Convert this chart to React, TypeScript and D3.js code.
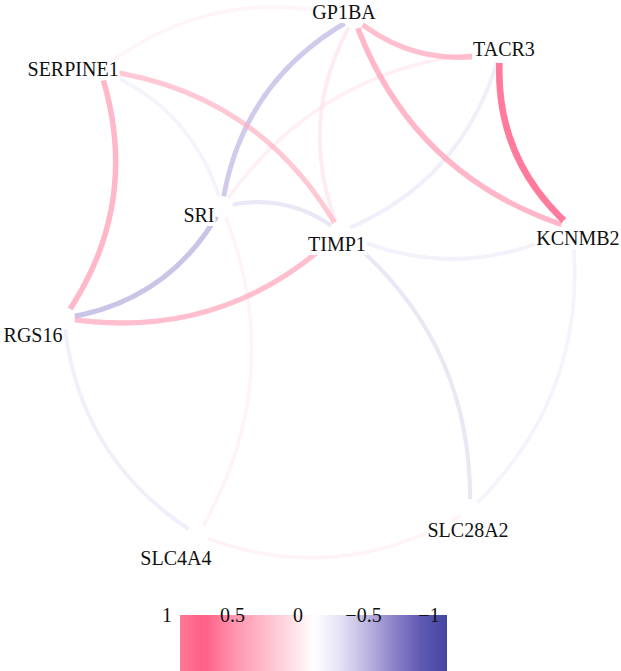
import React, { useEffect, useRef } from "react";
import * as d3 from "d3";

// ---- data ----
const nodeIds = ["GP1BA", "TACR3", "SERPINE1", "SRI", "TIMP1", "KCNMB2", "RGS16", "SLC28A2", "SLC4A4"];
const nodeX = [0.133, 0.703, -0.859, -0.383, 0.078, 0.984, -1.0, 0.586, -0.477];
const nodeY = [1.0, 0.868, 0.799, 0.269, 0.172, 0.188, -0.161, -0.903, -1.0];

const edgeFrom = ["GP1BA", "GP1BA", "TACR3", "RGS16", "TIMP1", "GP1BA", "RGS16", "RGS16", "TIMP1", "SRI",
  "GP1BA", "TACR3", "GP1BA", "TIMP1", "TIMP1", "SLC28A2", "SLC28A2", "RGS16", "SLC4A4", "SLC4A4"];
const edgeTo = ["TACR3", "KCNMB2", "KCNMB2", "SERPINE1", "SERPINE1", "SRI", "SRI", "TIMP1", "SRI", "SERPINE1",
  "SERPINE1", "SRI", "TIMP1", "TACR3", "KCNMB2", "TIMP1", "KCNMB2", "SLC4A4", "SRI", "SLC28A2"];
const edgeR = [0.5, 0.55, 0.8, 0.55, 0.45, -0.42, -0.45, 0.5, -0.25, -0.15,
  0.1, 0.15, 0.18, -0.2, -0.18, -0.25, -0.15, -0.2, 0.12, 0.12];

const legendTicks = [1, 0.5, 0, -0.5, -1];
const legendTickLabels = ["1", "0.5", "0", "\u22120.5", "\u22121"];
const colorStops = [1, 0.85, 0.8, 0.6, 0.4, 0.2, 0, -0.2, -0.4, -0.6, -0.8, -1];
const colorValues = ["#FF7996", "#FF6186", "#FF638A", "#FF93AD", "#FFB5C7", "#FFD8E2", "#FFFFFF",
  "#E6E2F5", "#BDB5E2", "#8D83C9", "#615AB3", "#4346A2"];

// ---- layout (label placement relative to node, px) ----
const labelOffset: Record<string, [number, number]> = {
  GP1BA: [-10, 1],
  TACR3: [4, 4],
  SERPINE1: [-27, 6],
  SRI: [-23, 15],
  TIMP1: [-3, 19],
  KCNMB2: [6, 17],
  RGS16: [-31, 24],
  SLC28A2: [-2, 27],
  SLC4A4: [-22, 30],
};

const FONT = "Liberation Serif, DejaVu Serif, Noto Serif, Times New Roman, Times, serif";
const W = 621;
const H = 671;

export default function App() {
  const ref = useRef<SVGSVGElement>(null);

  useEffect(() => {
    const svg = d3.select(ref.current);
    svg.selectAll("*").remove();

    const x = d3.scaleLinear().domain([-1, 1]).range([64, 576]);
    const y = d3.scaleLinear().domain([-1, 1]).range([535, 18]);
    const color = d3.scaleLinear<string>().domain(colorStops).range(colorValues).interpolate(d3.interpolateRgb);
    const width = d3.scaleLinear().domain([0, 1]).range([3.0, 7.5]);
    const opacity = d3.scaleLinear().domain([0, 1]).range([0.45, 0.95]);

    const pos = new Map<string, [number, number]>();
    nodeIds.forEach((id, i) => pos.set(id, [x(nodeX[i]), y(nodeY[i])]));

    const edges = edgeFrom.map((f, i) => ({ f, t: edgeTo[i], r: edgeR[i] }))
      .sort((a, b) => Math.abs(a.r) - Math.abs(b.r));

    const k = 0.25;
    const gEdges = svg.append("g");
    edges.forEach((e) => {
      const [x1, y1] = pos.get(e.f)!;
      const [x2, y2] = pos.get(e.t)!;
      const dx = x2 - x1, dy = y2 - y1;
      const mx = (x1 + x2) / 2, my = (y1 + y2) / 2;
      const cx = mx - dy * k, cy = my + dx * k;
      const p = d3.path();
      p.moveTo(x1, y1);
      p.quadraticCurveTo(cx, cy, x2, y2);
      gEdges.append("path")
        .attr("d", p.toString())
        .attr("fill", "none")
        .attr("stroke", color(e.r))
        .attr("stroke-opacity", opacity(Math.abs(e.r)))
        .attr("stroke-width", width(Math.abs(e.r)));
    });

    // node points (white)
    svg.append("g").selectAll("circle").data(nodeIds).join("circle")
      .attr("cx", (d) => pos.get(d)![0])
      .attr("cy", (d) => pos.get(d)![1])
      .attr("r", 11)
      .attr("fill", "white");

    // labels
    const gLab = svg.append("g");
    nodeIds.forEach((id) => {
      const [px, py] = pos.get(id)!;
      const [ox, oy] = labelOffset[id];
      const g = gLab.append("g");
      const rect = g.append("rect").attr("fill", "white");
      const t = g.append("text")
        .attr("x", px + ox)
        .attr("y", py + oy)
        .attr("text-anchor", "middle")
        .attr("font-family", FONT)
        .attr("font-size", 20)
        .attr("fill", "#111")
        .text(id);
      const bb = (t.node() as SVGTextElement).getBBox();
      rect.attr("x", bb.x - 1).attr("y", bb.y + 2).attr("width", bb.width + 2).attr("height", bb.height - 2);
    });

    // legend
    const barX = d3.scaleLinear().domain([1, -1]).range([180, 447]);
    const tickX = d3.scaleLinear().domain([1, -1]).range([167, 429]);
    const defs = svg.append("defs");
    const grad = defs.append("linearGradient").attr("id", "lg").attr("x1", "0%").attr("x2", "100%");
    colorStops.forEach((s, i) => {
      grad.append("stop")
        .attr("offset", `${((barX(s) - 180) / (447 - 180)) * 100}%`)
        .attr("stop-color", colorValues[i]);
    });
    svg.append("rect")
      .attr("x", barX(1)).attr("y", 615)
      .attr("width", barX(-1) - barX(1)).attr("height", 70)
      .attr("fill", "url(#lg)");
    svg.append("g").selectAll("text").data(legendTicks).join("text")
      .attr("x", (d) => tickX(d))
      .attr("y", 622)
      .attr("text-anchor", "middle")
      .attr("font-family", FONT)
      .attr("font-size", 20)
      .attr("fill", "#111")
      .text((d, i) => legendTickLabels[i]);
  }, []);

  return (
    <svg
      ref={ref}
      width={W}
      height={H}
      style={{ position: "absolute", left: 0, top: 0, display: "block", background: "white" }}
    />
  );
}
